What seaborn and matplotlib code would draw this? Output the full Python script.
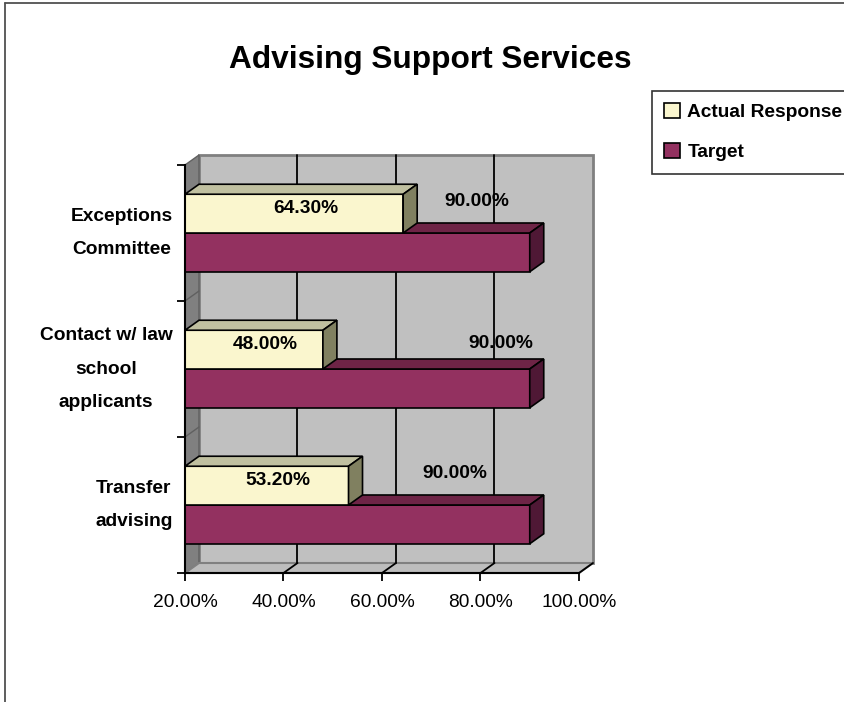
import matplotlib
matplotlib.use("Agg")
import matplotlib.pyplot as plt
from matplotlib.patches import Polygon, Patch, Rectangle
from matplotlib.lines import Line2D
import seaborn as sns
import pandas as pd

# ---- data -------------------------------------------------------------
categories = ["Exceptions\nCommittee", "Contact w/ law\nschool\napplicants", "Transfer\nadvising"]
series = ["Actual Response", "Target"]
actual = [64.30, 48.00, 53.20]
target = [90.00, 90.00, 90.00]
x_ticks = [20, 40, 60, 80, 100]

# ---- style ------------------------------------------------------------
sns.set_theme(style="white")
FONT = ["Liberation Sans", "DejaVu Sans"]
plt.rcParams["font.family"] = FONT
plt.rcParams["text.color"] = "black"
plt.rcParams["xtick.labelcolor"] = "black"
plt.rcParams["ytick.labelcolor"] = "black"

face = {"Actual Response": "#FAF6CE", "Target": "#933160"}
top = {"Actual Response": "#C0C0A0", "Target": "#6E2446"}
side = {"Actual Response": "#808060", "Target": "#4F1835"}
WALL = "#C0C0C0"
WALL_EDGE = "#808080"
FS = 13.8

df = pd.DataFrame({
    "category": categories * 2,
    "series": [series[0]] * 3 + [series[1]] * 3,
    "value": actual + target,
})

W, H = 845, 702
fig = plt.figure(figsize=(W / 100, H / 100), dpi=100)
ax = fig.add_axes([185 / W, 1 - 573 / H, 394 / W, 408 / H])

sns.barplot(data=df, y="category", x="value", hue="series",
            hue_order=series, order=categories, orient="h",
            palette=face, width=0.57, edgecolor="black", linewidth=1.2,
            saturation=1, ax=ax, legend=False)
bars = [p for p in ax.patches if isinstance(p, Rectangle) and p.get_width() > 0]

XMIN, XMAX = 20, 100
YTOP, YBOT = -0.5, 2.5
ax.set_xlim(XMIN, XMAX)
ax.set_ylim(YBOT, YTOP)

# depth offset of the 3-D box in data units (right and up)
DX = 14 / (394 / (XMAX - XMIN))
DY = -10 / (408 / (YBOT - YTOP))

# back wall, side wall and floor
ax.add_patch(Polygon([(XMIN + DX, YTOP + DY), (XMAX + DX, YTOP + DY),
                      (XMAX + DX, YBOT + DY), (XMIN + DX, YBOT + DY)],
                     closed=True, facecolor=WALL, edgecolor=WALL_EDGE,
                     linewidth=2, zorder=0.2, clip_on=False))
ax.add_patch(Polygon([(XMIN, YTOP), (XMIN + DX, YTOP + DY),
                      (XMIN + DX, YBOT + DY), (XMIN, YBOT)],
                     closed=True, facecolor="#808080", edgecolor="#606060",
                     linewidth=1, zorder=0.3, clip_on=False))
ax.add_patch(Polygon([(XMIN, YBOT), (XMAX, YBOT),
                      (XMAX + DX, YBOT + DY), (XMIN + DX, YBOT + DY)],
                     closed=True, facecolor="#BDBDBD", edgecolor=WALL_EDGE,
                     linewidth=1.5, zorder=0.3, clip_on=False))

# gridlines on the back wall and their traces on the floor
for xv in x_ticks:
    if XMIN < xv < XMAX:
        ax.plot([xv + DX, xv + DX], [YTOP + DY, YBOT + DY], color="black",
                lw=1.3, zorder=0.5, clip_on=False)
    if xv > XMIN:
        ax.plot([xv, xv + DX], [YBOT, YBOT + DY], color="black",
                lw=1.3, zorder=0.5, clip_on=False)
for yv in [0.5, 1.5]:
    ax.plot([XMIN, XMIN + DX], [yv, yv + DY], color="#606060",
            lw=1, zorder=0.5, clip_on=False)

# top and side faces for each bar, built from the bar geometry
n = len(categories)
for k, p in enumerate(bars[:2 * n]):
    name = series[k // n]
    z = 3 if name == "Target" else 4
    p.set_zorder(z)
    x1 = p.get_x() + p.get_width()
    y0, y1 = p.get_y(), p.get_y() + p.get_height()
    ax.add_patch(Polygon([(XMIN, y0), (XMIN + DX, y0 + DY), (x1 + DX, y0 + DY), (x1, y0)],
                         closed=True, facecolor=top[name], edgecolor="black",
                         linewidth=1.2, zorder=z, clip_on=False))
    ax.add_patch(Polygon([(x1, y0), (x1 + DX, y0 + DY), (x1 + DX, y1 + DY), (x1, y1)],
                         closed=True, facecolor=side[name], edgecolor="black",
                         linewidth=1.2, zorder=z, clip_on=False))

# value labels
target_label_x = [79.3, 84.2, 74.8]
target_label_dy = [-0.228, -0.19, -0.235]
for i, (a, t) in enumerate(zip(actual, target)):
    ya = i - 0.57 / 4
    ax.text((XMIN + a) / 2 + 2.3, ya + DY / 2, f"{a:.2f}%", ha="center", va="center",
            fontsize=FS, fontweight="bold", color="black", zorder=6)
    ax.text(target_label_x[i], i + target_label_dy[i], f"{t:.2f}%", ha="center",
            va="center", fontsize=FS, fontweight="bold", color="black", zorder=6)

# axes, ticks and tick labels
for s in ["top", "right"]:
    ax.spines[s].set_visible(False)
for s in ["left", "bottom"]:
    ax.spines[s].set_color("black")
    ax.spines[s].set_linewidth(1.5)
    ax.spines[s].set_zorder(5)

ax.set_xticks(x_ticks)
ax.set_xticklabels([f"{v:.2f}%" for v in x_ticks])
ax.set_yticks([-0.5, 0.5, 1.5, 2.5])
ax.set_yticklabels([])
ax.set_yticks(range(n), minor=True)
ax.set_yticklabels(categories, minor=True, fontsize=FS, fontweight="bold")
for t in ax.get_yticklabels(minor=True):
    t.set_multialignment("center")
    t.set_verticalalignment("center")
    t.set_linespacing(2.27)
ax.tick_params(axis="x", which="major", direction="out", length=6, width=1.3,
               color="black", labelsize=FS, pad=9, bottom=True, labelcolor="black")
ax.tick_params(axis="y", which="major", direction="out", length=5.5, width=1.3,
               color="black", left=True)
ax.tick_params(axis="y", which="minor", length=0, pad=9, left=True, labelcolor="black")
ax.set_xlabel("")
ax.set_ylabel("")
ax.grid(False)
ax.set_facecolor("none")

# title
fig.text(430 / W, 1 - 60 / H, "Advising Support Services", ha="center", va="center",
         fontsize=22.8, fontweight="bold", color="black")

# legend
handles = [Patch(facecolor=face[s], edgecolor="black", linewidth=1.2) for s in series]
leg = fig.legend(handles, series, loc="upper left",
                 bbox_to_anchor=(652 / W, 1 - 91 / H), borderaxespad=0,
                 frameon=True, fancybox=False, handlelength=0.8, handleheight=0.8,
                 handletextpad=0.4, labelspacing=1.15, borderpad=0.65,
                 prop={"size": FS, "weight": "bold"})
leg.get_frame().set_edgecolor("black")
leg.get_frame().set_linewidth(1.2)
for txt in leg.get_texts():
    txt.set_color("black")

# outer frame lines along the top and left edges
fig.add_artist(Line2D([5 / W, 1], [1 - 3 / H, 1 - 3 / H], color="#505050", lw=1.3))
fig.add_artist(Line2D([5 / W, 5 / W], [1 - 3 / H, 0], color="#505050", lw=1.3))

fig.savefig("out.png", dpi=100, facecolor="white")
